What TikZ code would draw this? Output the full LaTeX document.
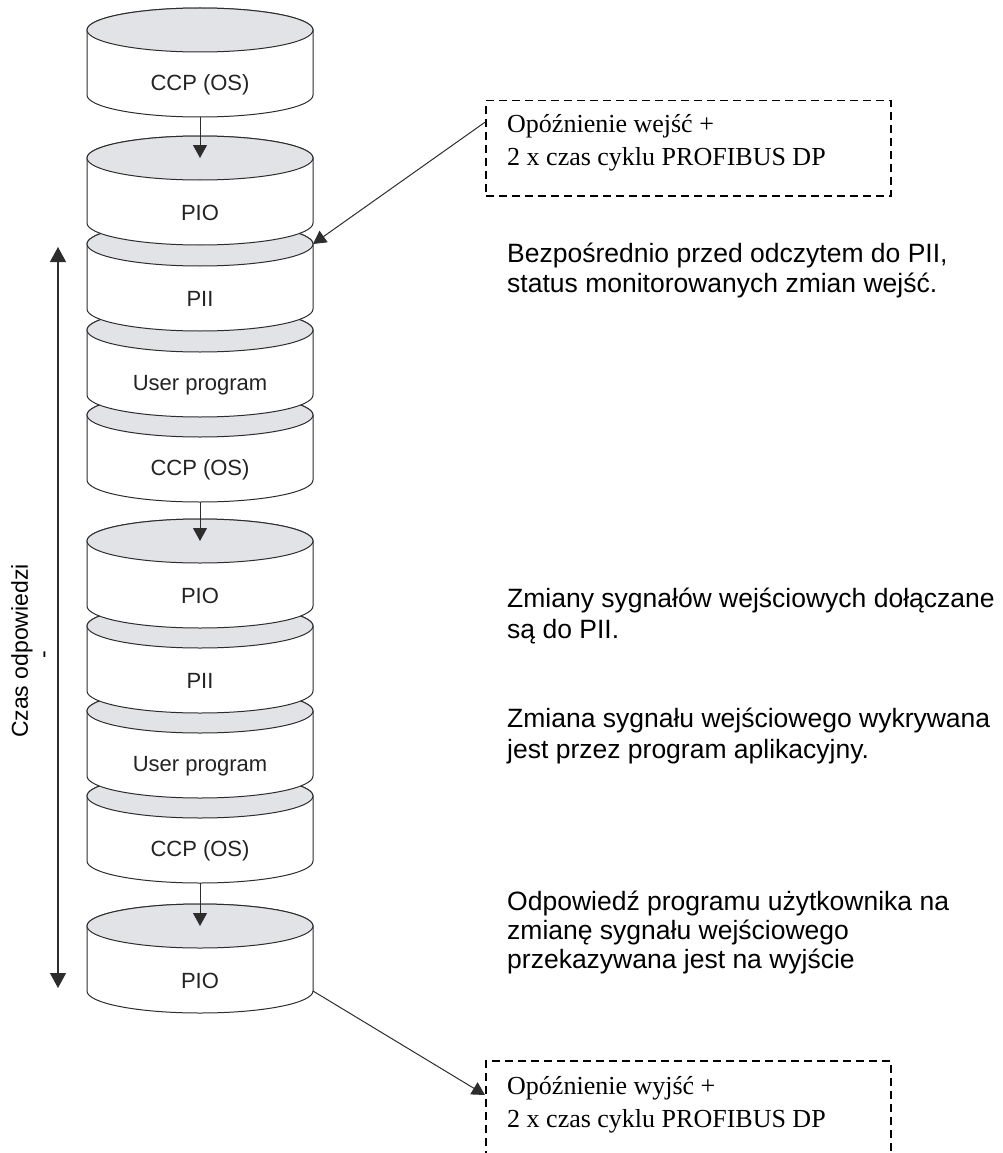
\documentclass[tikz,border=0pt]{standalone}
\usepackage{fontspec}
\setmainfont{Liberation Serif}
\setsansfont{Liberation Sans}
\usetikzlibrary{arrows.meta,calc}

\definecolor{capgray}{RGB}{226,227,230}
\definecolor{edgeink}{RGB}{45,45,45}
\definecolor{labelink}{RGB}{35,35,35}

\tikzset{
  drumbody/.style={fill=white,draw=edgeink,line width=1pt},
  drumcap/.style={fill=capgray,draw=edgeink,line width=1pt},
  drumlabel/.style={inner sep=0pt,text=labelink,font=\sffamily\fontsize{22}{26}\selectfont},
  conn/.style={draw=edgeink,line width=1pt,-{Triangle[width=14pt,length=13pt]}},
  axisline/.style={draw=edgeink,line width=1.1pt,
    {Triangle[width=16pt,length=15pt]}-{Triangle[width=16pt,length=15pt]}},
  dashbox/.style={draw=black,line width=1.5pt,dash pattern=on 8pt off 5pt,
    minimum width=405pt,anchor=north west,inner sep=0pt},
  boxtext/.style={inner sep=0pt,anchor=west,align=left,
    font=\fontsize{26}{33}\selectfont},
  note/.style={inner sep=0pt,anchor=base west,
    font=\sffamily\fontsize{26.5}{30}\selectfont},
}

% one stage of the scan cycle: name, centre x, top-ellipse y, label
\newcommand\drumstage[4]{%
  \path[drumbody] (#2-113,#3) -- (#2-113,#3-65)
    arc[start angle=180,end angle=360,x radius=113,y radius=22]
    -- (#2+113,#3)
    arc[start angle=0,end angle=180,x radius=113,y radius=22] -- cycle;
  \path[drumcap] (#2,#3) ellipse[x radius=113,y radius=22];
  \node[drumlabel] (#1) at (#2,#3-55) {#4};
  \coordinate (#1-top) at (#2,#3);
  \coordinate (#1-bot) at (#2,#3-87);
  \coordinate (#1-ne) at (#2+113,#3);
  \coordinate (#1-se) at (#2+113,#3-65);
}

\begin{document}
\begin{tikzpicture}[x=1pt,y=1pt]
\clip (0,0) rectangle (1002,-1153);

% stack, drawn from the bottom up so each stage covers the cap below it
\drumstage{pioC}{200}{-926}{PIO}
\drumstage{ccpC}{200}{-796}{CCP (OS)}
\drumstage{upB}{200}{-711}{User program}
\drumstage{piiB}{200}{-626}{PII}
\drumstage{pioB}{200}{-541}{PIO}
\drumstage{ccpB}{200}{-415}{CCP (OS)}
\drumstage{upA}{200}{-330}{User program}
\drumstage{piiA}{200}{-244}{PII}
\drumstage{pioA}{200}{-158}{PIO}
\drumstage{ccpA}{200}{-30}{CCP (OS)}

% hand-over arrows between cycles
\draw[conn] (ccpA-bot) -- (pioA-top);
\draw[conn] (ccpB-bot) -- (pioB-top);
\draw[conn] (ccpC-bot) -- (pioC-top);

% response-time axis
\coordinate (axtop) at (58,-247);
\coordinate (axbot) at (58,-988);
\draw[axisline] (axtop) -- (axbot);
\node[rotate=90,inner sep=0pt,font=\sffamily\fontsize{23}{27}\selectfont]
  (axlabel) at (22,-651) {Czas odpowiedzi};
\node[rotate=90,inner sep=0pt,font=\sffamily\fontsize{23}{27}\selectfont]
  (axdash) at (47,-655) {-};

% input delay box
\node[dashbox,minimum height=95pt] (inbox) at (485,-100) {};
\node[boxtext] (intext) at (507,-143)
  {Opóźnienie wejść +\\2 x czas cyklu PROFIBUS DP};
\draw[conn] ($(inbox.north west)!0.23!(inbox.south west)$) -- (piiA-ne);

% output delay box
\node[dashbox,minimum height=140pt] (outbox) at (485,-1060) {};
\node[boxtext] (outtext) at (507,-1105)
  {Opóźnienie wyjść +\\2 x czas cyklu PROFIBUS DP};
\draw[conn] (pioC-se) -- ($(outbox.north west)+(0,-35)$);

% explanations
\node[note] (n1a) at (507,-262) {Bezpośrednio przed odczytem do PII,};
\node[note] (n1b) at (507,-292) {status monitorowanych zmian wejść.};
\node[note] (n2a) at (507,-607) {Zmiany sygnałów wejściowych dołączane};
\node[note] (n2b) at (507,-638) {są do PII.};
\node[note] (n3a) at (507,-727) {Zmiana sygnału wejściowego wykrywana};
\node[note] (n3b) at (507,-758) {jest przez program aplikacyjny.};
\node[note] (n4a) at (507,-910) {Odpowiedź programu użytkownika na};
\node[note] (n4b) at (507,-939) {zmianę sygnału wejściowego};
\node[note] (n4c) at (507,-968) {przekazywana jest na wyjście};
\end{tikzpicture}
\end{document}
